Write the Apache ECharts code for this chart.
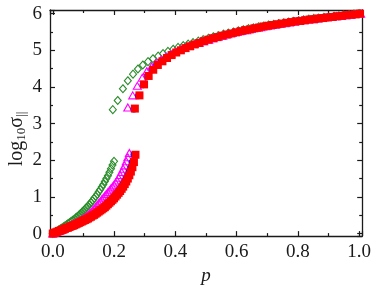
<!DOCTYPE html>
<html><head><meta charset="utf-8">
<script src="https://cdn.jsdelivr.net/npm/echarts@6/dist/echarts.min.js"></script>
<style>html,body{margin:0;padding:0;background:#fff}#c{width:374px;height:290px}</style>
</head><body><div id="c"></div>
<script>
// shared p grid of the low-p branches
const lowP = [0,0.005,0.01,0.015,0.02,0.025,0.03,0.035,0.04,0.045,
  0.05,0.055,0.06,0.065,0.07,0.075,0.08,0.085,0.09,0.095,
  0.1,0.105,0.11,0.115,0.12,0.125,0.13,0.135,0.14,0.145,
  0.15,0.155,0.16,0.165,0.17,0.175,0.18,0.185,0.19,0.195,
  0.2,0.205,0.21,0.215,0.22,0.225,0.23,0.235,0.24,0.245,
  0.25,0.255,0.26,0.265,0.27];

const greenLowY = [0.00,0.02,0.05,0.07,0.10,0.13,0.15,0.18,0.21,0.24,
  0.27,0.30,0.33,0.36,0.39,0.43,0.46,0.50,0.54,0.58,
  0.62,0.66,0.71,0.75,0.80,0.85,0.90,0.96,1.01,1.07,
  1.14,1.20,1.27,1.34,1.42,1.50,1.58,1.67,1.77,1.87,
  1.97];
const magentaLowY = [0.00,0.02,0.04,0.06,0.07,0.09,0.11,0.13,0.15,0.17,
  0.19,0.21,0.23,0.25,0.27,0.29,0.31,0.33,0.35,0.38,
  0.41,0.44,0.47,0.51,0.55,0.59,0.63,0.68,0.73,0.78,
  0.83,0.88,0.93,0.98,1.03,1.08,1.13,1.18,1.23,1.28,
  1.33,1.39,1.45,1.52,1.60,1.68,1.77,1.86,1.97,2.08,
  2.20];
const blueLowY = [0.00,0.02,0.03,0.05,0.07,0.08,0.10,0.12,0.13,0.15,
  0.17,0.18,0.20,0.22,0.24,0.26,0.28,0.30,0.32,0.34,
  0.36,0.38,0.40,0.43,0.45,0.48,0.50,0.53,0.56,0.59,
  0.62,0.65,0.68,0.71,0.75,0.79,0.83,0.87,0.91,0.96,
  1.00,1.05,1.10,1.16,1.22,1.28,1.35,1.42,1.50,1.59,
  1.69,1.81,1.95,2.15];
const redLowY = [0.00,0.02,0.03,0.05,0.07,0.08,0.10,0.11,0.13,0.15,
  0.16,0.18,0.20,0.21,0.23,0.25,0.27,0.29,0.31,0.33,
  0.35,0.37,0.39,0.41,0.44,0.46,0.49,0.51,0.54,0.57,
  0.60,0.63,0.66,0.69,0.72,0.76,0.80,0.84,0.88,0.92,
  0.96,1.01,1.06,1.11,1.16,1.22,1.28,1.35,1.42,1.50,
  1.59,1.69,1.81,1.95,2.15];

// high-p branches
const greenUpP = [0.196,0.212,0.229,0.245,0.262,0.278,0.294,0.311,0.327,0.344,
  0.360,0.376,0.393,0.409,0.426,0.442,0.458,0.475,0.491,0.508,
  0.524,0.540,0.557,0.573,0.590,0.606,0.622,0.639,0.655,0.672,
  0.688,0.704,0.721,0.737,0.754,0.770,0.786,0.803,0.819,0.836,
  0.852,0.868,0.885,0.901,0.918,0.934,0.950,0.967,0.983,1.000];
const greenUpY = [3.38,3.63,3.95,4.17,4.35,4.49,4.60,4.69,4.77,4.84,
  4.91,4.97,5.03,5.08,5.13,5.17,5.21,5.25,5.29,5.33,
  5.37,5.40,5.44,5.47,5.50,5.53,5.56,5.59,5.61,5.64,
  5.66,5.69,5.71,5.73,5.75,5.77,5.79,5.81,5.83,5.85,
  5.87,5.88,5.90,5.91,5.93,5.94,5.96,5.97,5.99,6.00];
const magentaUpP = [0.245,0.261,0.276,0.292,0.307,0.323,0.338,0.354,0.369,0.385,
  0.400,0.416,0.431,0.447,0.462,0.478,0.493,0.509,0.524,0.540,
  0.555,0.571,0.586,0.602,0.617,0.633,0.648,0.664,0.679,0.695,
  0.710,0.726,0.741,0.757,0.772,0.788,0.803,0.819,0.834,0.850,
  0.865,0.881,0.896,0.912,0.927,0.943,0.958,0.974,0.989,1.005];
const magentaUpY = [3.44,3.77,4.03,4.25,4.43,4.56,4.66,4.75,4.83,4.90,
  4.96,5.02,5.07,5.12,5.17,5.21,5.25,5.29,5.33,5.37,
  5.40,5.44,5.47,5.50,5.53,5.55,5.58,5.61,5.63,5.66,
  5.68,5.70,5.72,5.74,5.76,5.78,5.80,5.82,5.84,5.85,
  5.87,5.88,5.90,5.91,5.93,5.94,5.96,5.97,5.99,6.00];
const blueUpP = [0.265,0.280,0.295,0.310,0.325,0.340,0.355,0.370,0.385,0.400,
  0.415,0.430,0.445,0.460,0.475,0.490,0.505,0.520,0.535,0.550,
  0.565,0.580,0.595,0.610,0.625,0.640,0.655,0.670,0.685,0.700,
  0.715,0.730,0.745,0.760,0.775,0.790,0.805,0.820,0.835,0.850,
  0.865,0.880,0.895,0.910,0.925,0.940,0.955,0.970,0.985,1.000];
const blueUpY = [3.40,3.76,4.06,4.30,4.47,4.60,4.70,4.79,4.87,4.94,
  5.00,5.06,5.11,5.16,5.20,5.25,5.29,5.33,5.36,5.40,
  5.43,5.46,5.49,5.52,5.55,5.57,5.60,5.62,5.65,5.67,
  5.69,5.71,5.73,5.75,5.77,5.79,5.80,5.82,5.84,5.85,
  5.87,5.88,5.90,5.91,5.93,5.94,5.96,5.97,5.98,6.00];
const redUpP = [0.268,0.283,0.298,0.313,0.328,0.343,0.358,0.373,0.388,0.403,
  0.418,0.433,0.448,0.463,0.478,0.493,0.508,0.523,0.538,0.553,
  0.568,0.583,0.598,0.613,0.628,0.643,0.658,0.673,0.688,0.703,
  0.718,0.733,0.748,0.763,0.778,0.793,0.808,0.823,0.838,0.853,
  0.868,0.883,0.898,0.913,0.928,0.943,0.958,0.973,0.988,1.003];
const redUpY = [3.41,3.77,4.07,4.30,4.47,4.60,4.70,4.79,4.87,4.94,
  5.00,5.06,5.11,5.16,5.20,5.25,5.29,5.33,5.36,5.40,
  5.43,5.46,5.49,5.52,5.55,5.57,5.60,5.62,5.65,5.67,
  5.69,5.71,5.73,5.75,5.77,5.79,5.80,5.82,5.84,5.85,
  5.87,5.88,5.90,5.91,5.93,5.94,5.96,5.97,5.98,6.00];

const FONT = 'Liberation Serif';
const INK = '#1a1a1a';
const low = ys => ys.map((y, i) => [lowP[i], y]);
const zip = (xs, ys) => ys.map((y, i) => [xs[i], y]);

const tickCommon = (showLabel, isX, pos) => ({
  type: 'value',
  position: pos,
  splitLine: { show: false },
  axisLine: { show: true, onZero: false, lineStyle: { color: INK, width: 1.3 } },
  axisTick: { show: true, inside: true, length: 5, lineStyle: { color: INK, width: 1.2 } },
  minorTick: { show: true, splitNumber: 2, length: 3, lineStyle: { color: INK, width: 1.2 } },
  minorSplitLine: { show: false },
  axisLabel: {
    show: showLabel, fontFamily: FONT, fontSize: 19, color: INK, margin: isX ? 6 : 8,
    formatter: v => {
      if (isX) return Math.abs(v * 5 - Math.round(v * 5)) < 1e-6 ? v.toFixed(1) : '';
      return Math.abs(v - Math.round(v)) < 1e-6 ? String(Math.round(v)) : '';
    }
  }
});

const xBase = { min: -0.009, max: 1.01, splitNumber: 5 };
const yBase = { min: -0.07, max: 6.1, splitNumber: 6 };

const chart = echarts.init(document.getElementById('c'), null, { renderer: 'canvas' });
chart.setOption({
  animation: false,
  backgroundColor: '#fff',
  grid: { left: 50, right: 10, top: 10, bottom: 50 },
  xAxis: [
    Object.assign(tickCommon(true, true, 'bottom'), xBase, {
      name: 'p', nameLocation: 'middle', nameGap: 20,
      nameTextStyle: { fontFamily: FONT, fontSize: 19, fontStyle: 'italic', color: INK }
    }),
    Object.assign(tickCommon(false, true, 'top'), xBase)
  ],
  yAxis: [
    Object.assign(tickCommon(true, false, 'left'), yBase),
    Object.assign(tickCommon(false, false, 'right'), yBase)
  ],
  graphic: [{
    type: 'text', x: 17, y: 139, rotation: Math.PI / 2,
    style: {
      text: '{n|log}{s|10}{n|σ}{s|||}',
      align: 'center', verticalAlign: 'middle', fill: INK,
      rich: {
        n: { fontFamily: FONT, fontSize: 20, fill: INK, lineHeight: 22 },
        s: { fontFamily: FONT, fontSize: 13, fill: INK, lineHeight: 22, padding: [10, 0, 0, 0] }
      }
    }
  }],
  series: [
    {
      type: 'scatter', name: 'green', symbol: 'diamond', symbolSize: [7, 8],
      itemStyle: { opacity: 1, color: 'rgba(0,0,0,0)', borderColor: '#2a8c2a', borderWidth: 1.1 },
      data: low(greenLowY).concat(zip(greenUpP, greenUpY))
    },
    {
      type: 'scatter', name: 'magenta', symbol: 'triangle', symbolSize: [8, 7],
      itemStyle: { opacity: 1, color: 'rgba(0,0,0,0)', borderColor: '#ff00ff', borderWidth: 1.1 },
      data: low(magentaLowY).concat(zip(magentaUpP, magentaUpY))
    },
    {
      type: 'scatter', name: 'blue', symbol: 'circle', symbolSize: 7,
      itemStyle: { opacity: 1, color: '#0000ff' },
      data: low(blueLowY).concat(zip(blueUpP, blueUpY))
    },
    {
      type: 'scatter', name: 'red', symbol: 'rect', symbolSize: 8,
      itemStyle: { opacity: 1, color: '#ff0000' },
      data: low(redLowY).concat(zip(redUpP, redUpY))
    }
  ]
});
</script></body></html>
